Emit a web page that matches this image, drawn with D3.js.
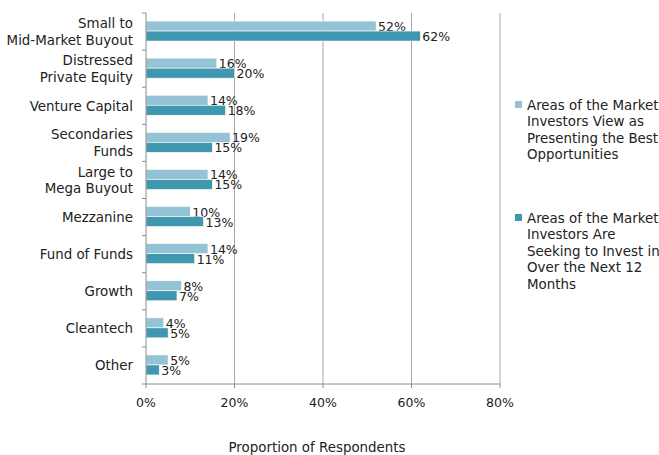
<!DOCTYPE html>
<html><head><meta charset="utf-8">
<script src="https://cdn.jsdelivr.net/npm/d3@7"></script>
<style>body{margin:0;background:#fff}svg{display:block}text{font-family:"DejaVu Sans",sans-serif;fill:#222}</style>
</head><body><svg id="c" width="659" height="455"></svg>
<script>
const categories = [["Small to","Mid-Market Buyout"],["Distressed","Private Equity"],["Venture Capital"],["Secondaries","Funds"],["Large to","Mega Buyout"],["Mezzanine"],["Fund of Funds"],["Growth"],["Cleantech"],["Other"]];
const bestOpportunities = [52,16,14,19,14,10,14,8,4,5];
const seekingToInvest = [62,20,18,15,15,13,11,7,5,3];
const xTicks = [0,20,40,60,80];
const seriesNames = [["Areas of the Market","Investors View as","Presenting the Best","Opportunities"],["Areas of the Market","Investors Are","Seeking to Invest in","Over the Next 12","Months"]];
const colors = ["#93c3d4","#4098b0"];

const svg = d3.select("#c");
const L = 146, R = 500, T = 13, B = 384;
const x = d3.scaleLinear().domain([0,80]).range([L,R]);
const y = d3.scaleBand().domain(d3.range(categories.length)).range([T,B]);
const fs = 13.4, fsv = 12.5;

// gridlines
svg.append("g").selectAll("line").data(xTicks.slice(1)).join("line")
  .attr("x1",d=>x(d)).attr("x2",d=>x(d)).attr("y1",T).attr("y2",B)
  .attr("stroke","#a6a6a6").attr("stroke-width",1);

// bars
const barH = 10;
const series = [bestOpportunities, seekingToInvest];
series.forEach((vals,si)=>{
  const g = svg.append("g");
  g.selectAll("rect").data(vals).join("rect")
    .attr("x",x(0)).attr("width",d=>x(d)-x(0))
    .attr("y",(d,i)=>y(i)+y.bandwidth()/2 - barH + si*barH - 0.5)
    .attr("height",barH)
    .attr("fill",colors[si]).attr("stroke","#fff").attr("stroke-width",0.6);
  g.selectAll("text").data(vals).join("text")
    .attr("x",d=>x(d)+2)
    .attr("y",(d,i)=>y(i)+y.bandwidth()/2 - barH + si*barH - 0.5 + barH/2 + 5)
    .attr("font-size",fsv).text(d=>d+"%");
});

// left axis
const ya = svg.append("g");
ya.append("line").attr("x1",L).attr("x2",L).attr("y1",T).attr("y2",B).attr("stroke","#8c8c8c");
ya.selectAll("line.t").data(d3.range(categories.length+1)).join("line").attr("class","t")
  .attr("x1",L-4).attr("x2",L).attr("y1",i=>T+i*y.step()).attr("y2",i=>T+i*y.step()).attr("stroke","#8c8c8c");
categories.forEach((lines,i)=>{
  const cy = y(i)+y.bandwidth()/2;
  const lh = 16.5;
  const t = ya.append("text").attr("text-anchor","end").attr("font-size",fs);
  lines.forEach((ln,k)=>{
    t.append("tspan").attr("x",133).attr("y",cy + (k-(lines.length-1)/2)*lh + 4.8).text(ln);
  });
});

// bottom axis
const xa = svg.append("g");
xa.append("line").attr("x1",L).attr("x2",R).attr("y1",B).attr("y2",B).attr("stroke","#8c8c8c");
xa.selectAll("line.t").data(xTicks).join("line").attr("class","t")
  .attr("x1",d=>x(d)).attr("x2",d=>x(d)).attr("y1",B).attr("y2",B+4).attr("stroke","#8c8c8c");
xa.selectAll("text").data(xTicks).join("text").attr("text-anchor","middle")
  .attr("x",d=>x(d)).attr("y",B+23).attr("font-size",fsv).text(d=>d+"%");

svg.append("text").attr("x",317).attr("y",452).attr("text-anchor","middle").attr("font-size",fs).text("Proportion of Respondents");

// legend
const legY = [100, 213];
seriesNames.forEach((lines,si)=>{
  const g = svg.append("g");
  g.append("rect").attr("x",515).attr("y",legY[si]+1).attr("width",7).attr("height",7).attr("fill",colors[si]);
  const t = g.append("text").attr("font-size",fs);
  lines.forEach((ln,k)=>t.append("tspan").attr("x",527).attr("y",legY[si]+9.5+k*16.5).text(ln));
});
</script></body></html>
